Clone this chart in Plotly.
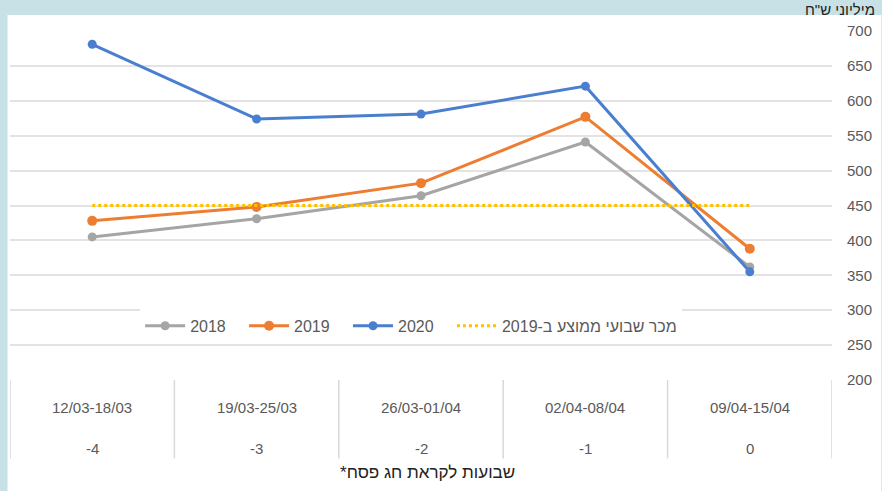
import plotly.graph_objects as go

weeks = ["12/03-18/03", "19/03-25/03", "26/03-01/04", "02/04-08/04", "09/04-15/04"]
week_nums = ["-4", "-3", "-2", "-1", "0"]
sales_2018 = [405, 431, 464, 541, 362]
sales_2019 = [428, 448, 482, 577, 388]
sales_2020 = [681, 574, 581, 621, 355]
avg_2019 = 450
y_ticks = [200, 250, 300, 350, 400, 450, 500, 550, 600, 650, 700]

FONT = "Liberation Sans, Arial, sans-serif"
TXT = "#595959"
PAD = "\u00a0" * 3

fig = go.Figure()
xs = list(range(len(weeks)))
fig.add_trace(go.Scatter(x=xs, y=sales_2018, name="2018" + PAD, mode="lines+markers",
                         line=dict(color="#a5a5a5", width=3), marker=dict(size=9, color="#a5a5a5")))
fig.add_trace(go.Scatter(x=xs, y=sales_2019, name="2019" + PAD, mode="lines+markers",
                         line=dict(color="#ed7d31", width=3), marker=dict(size=10, color="#ed7d31")))
fig.add_trace(go.Scatter(x=xs, y=sales_2020, name="2020" + PAD, mode="lines+markers",
                         line=dict(color="#4a7fd0", width=3), marker=dict(size=9, color="#4a7fd0")))
fig.add_trace(go.Scatter(x=xs, y=[avg_2019] * len(weeks), name="מכר שבועי ממוצע ב-2019", mode="lines",
                         line=dict(color="#ffc000", width=3, dash="dot")))

shapes = [dict(type="rect", xref="paper", yref="paper", x0=-0.003, x1=1.06, y0=-0.35, y1=1.046,
               fillcolor="white", line=dict(width=0), layer="below")]
for i in range(len(weeks) + 1):
    shapes.append(dict(type="line", xref="x", yref="paper", x0=i - 0.5, x1=i - 0.5, y0=0, y1=-0.225,
                       line=dict(color="#d9d9d9", width=1.5)))

annotations = []
for i, (w, n) in enumerate(zip(weeks, week_nums)):
    annotations.append(dict(x=i, y=-0.08, xref="x", yref="paper", text=w, showarrow=False,
                            font=dict(family=FONT, size=15, color=TXT), yanchor="middle"))
    annotations.append(dict(x=i, y=-0.195, xref="x", yref="paper", text=n, showarrow=False,
                            font=dict(family=FONT, size=15, color=TXT), yanchor="middle"))
annotations.append(dict(x=0.508, y=-0.266, xref="paper", yref="paper", text="*שבועות לקראת חג פסח",
                        showarrow=False, font=dict(family=FONT, size=17, color="#222"),
                        yanchor="middle"))
annotations.append(dict(x=1.055, y=1.063, xref="paper", yref="paper", text="מיליוני ש\"ח",
                        showarrow=False, font=dict(family=FONT, size=15, color="#222"),
                        xanchor="right", yanchor="middle"))

fig.update_layout(
    width=882, height=491,
    margin=dict(l=10, r=46, t=31, b=111),
    paper_bgcolor="#c8e1e6", plot_bgcolor="white",
    font=dict(family=FONT, color=TXT),
    showlegend=True,
    legend=dict(orientation="h", x=0.488, y=0.155, xanchor="center", yanchor="middle",
                bgcolor="white", font=dict(family=FONT, size=16, color=TXT),
                itemwidth=40, tracegroupgap=0),
    xaxis=dict(range=[-0.5, 4.5], showticklabels=False, showgrid=False, zeroline=False,
               tickvals=xs, ticks=""),
    yaxis=dict(side="right", range=[200, 700], tickvals=y_ticks, showgrid=True,
               gridcolor="#e3e3e3", gridwidth=2, zeroline=False, ticks="",
               ticklabelstandoff=14, tickfont=dict(family=FONT, size=15, color=TXT)),
    shapes=shapes, annotations=annotations,
)
fig.write_html("out.html", config={"displayModeBar": False},
               post_script="document.body.style.margin='0';document.body.style.background='#c8e1e6';")
